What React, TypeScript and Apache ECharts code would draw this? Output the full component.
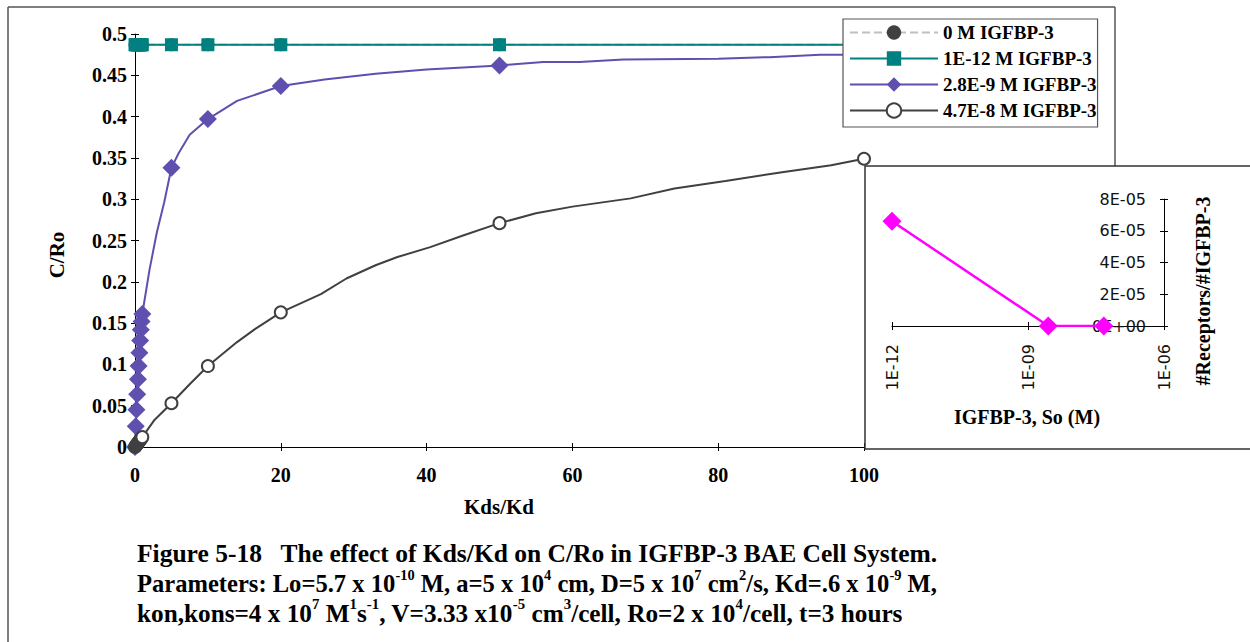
import React, { useEffect, useRef } from "react";
import * as echarts from "echarts";

const SERIF = "'Liberation Serif', 'Times New Roman', serif";
const SANS = "'DejaVu Sans', sans-serif";

// ---- main chart data: C/Ro vs Kds/Kd ----
const seriesNames = ["0 M IGFBP-3", "1E-12 M IGFBP-3", "2.8E-9 M IGFBP-3", "4.7E-8 M IGFBP-3"];

// Kds/Kd values that carry a marker (the rest are curve-only points)
const markedKds = [0, 0.1, 0.2, 0.3, 0.4, 0.5, 0.6, 0.7, 0.8, 0.9, 1, 5, 10, 20, 50, 100];

const kdsZero = [0, 0.1, 0.2, 0.3, 0.4, 0.5, 0.6, 0.7, 0.8, 0.9, 1, 5, 10, 20, 50, 100];
const cRoZero = [0.487, 0.487, 0.487, 0.487, 0.487, 0.487, 0.487, 0.487, 0.487, 0.487, 0.487, 0.487, 0.487, 0.487, 0.487, 0.487];

const kdsPico = [0, 0.1, 0.2, 0.3, 0.4, 0.5, 0.6, 0.7, 0.8, 0.9, 1, 5, 10, 20, 50, 100];
const cRoPico = [0.487, 0.487, 0.487, 0.487, 0.487, 0.487, 0.487, 0.487, 0.487, 0.487, 0.487, 0.487, 0.487, 0.487, 0.487, 0.487];

const kdsNano = [0, 0.1, 0.2, 0.3, 0.4, 0.5, 0.6, 0.7, 0.8, 0.9, 1, 2, 3, 4, 5, 6, 7.5, 10, 14, 20, 26, 33, 40, 50, 56, 61, 67, 80, 87, 94, 100];
const cRoNano = [0, 0.025, 0.045, 0.064, 0.082, 0.098, 0.114, 0.129, 0.142, 0.152, 0.161, 0.215, 0.26, 0.296, 0.338, 0.356, 0.378, 0.397, 0.419, 0.437, 0.445, 0.452, 0.457, 0.462, 0.466, 0.466, 0.469, 0.47, 0.472, 0.475, 0.475];

const kdsHigh = [0, 0.1, 0.2, 0.3, 0.4, 0.5, 0.6, 0.7, 0.8, 0.9, 1, 2.6, 5, 7.5, 10, 14, 16.5, 20, 25.5, 29, 33, 36, 40.5, 45, 50, 55, 60, 68, 74, 81, 89, 95.5, 100];
const cRoHigh = [0, 0.0012, 0.0025, 0.0037, 0.005, 0.0061, 0.0073, 0.0085, 0.0097, 0.0108, 0.012, 0.032, 0.053, 0.076, 0.098, 0.127, 0.143, 0.163, 0.185, 0.204, 0.22, 0.23, 0.242, 0.256, 0.271, 0.283, 0.291, 0.301, 0.313, 0.322, 0.333, 0.341, 0.349];

// ---- inset data: #Receptors/#IGFBP-3 vs So ----
const insetSo = [1e-12, 2.8e-9, 4.7e-8];
const insetRatio = [6.6e-5, 0, 0];

// ---- texts ----
const captionLines: [string, boolean][][] = [
  [["Figure 5-18   The effect of Kds/Kd on C/Ro in IGFBP-3 BAE Cell System.", false]],
  [
    ["Parameters: Lo=5.7 x 10", false], ["-10", true], [" M, a=5 x 10", false], ["4", true],
    [" cm, D=5 x 10", false], ["7", true], [" cm", false], ["2", true], ["/s, Kd=.6 x 10", false], ["-9", true], [" M,", false],
  ],
  [
    ["kon,kons=4 x 10", false], ["7", true], [" M", false], ["1", true], ["s", false], ["-1", true],
    [", V=3.33 x10", false], ["-5", true], [" cm", false], ["3", true], ["/cell, Ro=2 x 10", false], ["4", true], ["/cell, t=3 hours", false],
  ],
];
const captionScale = [1, 0.964, 0.99];

const withMarkers = (xs: number[], ys: number[]) =>
  xs.map((x, i) => (markedKds.includes(x) ? [x, ys[i]] : { value: [x, ys[i]], symbol: "none" }));

const expLabel = (v: number) => {
  const [m, e] = v.toExponential(0).split("e");
  const n = parseInt(e, 10);
  return `${m}E${n < 0 ? "-" : "+"}${String(Math.abs(n)).padStart(2, "0")}`;
};

export default function App() {
  const ref = useRef<HTMLDivElement>(null);
  useEffect(() => {
    if (!ref.current) return;
    const chart = echarts.init(ref.current, undefined, { renderer: "svg" });

    const mainTickLabel = { fontFamily: SERIF, fontWeight: "bold" as const, fontSize: 20, color: "#000" };
    const axLine = { show: true, lineStyle: { color: "#000", width: 1 } };

    const captionGraphics = captionLines.map((line, li) => ({
      type: "text",
      x: 137,
      y: 537.5 + li * 29.5,
      scaleX: captionScale[li],
      z: 20,
      style: {
        text: line.map(([t, sup]) => `{${sup ? "s" : "b"}|${t}}`).join(""),
        rich: {
          b: { fontFamily: SERIF, fontWeight: "bold", fontSize: 25.5, lineHeight: 29, fill: "#000", verticalAlign: "bottom" },
          s: { fontFamily: SERIF, fontWeight: "bold", fontSize: 15, lineHeight: 15, fill: "#000", verticalAlign: "top" },
        },
      },
    }));

    const option: any = {
      animation: false,
      backgroundColor: "#fff",
      grid: [
        { left: 135, right: 386, top: 34, bottom: 195, containLabel: false },
        { left: 892, right: 86, top: 199, bottom: 316, containLabel: false },
      ],
      xAxis: [
        {
          type: "value", gridIndex: 0, min: 0, max: 100, interval: 20, position: "bottom",
          axisLine: { ...axLine, onZero: false },
          axisTick: { show: true, inside: false, length: 4, lineStyle: { color: "#000" } },
          axisLabel: { ...mainTickLabel, margin: 18 },
          splitLine: { show: false },
        },
        {
          type: "value", gridIndex: 0, min: 0, max: 100, interval: 20, position: "bottom",
          axisLine: { show: false, onZero: false },
          axisTick: { show: true, inside: true, length: 4, lineStyle: { color: "#000" } },
          axisLabel: { show: false },
          splitLine: { show: false },
        },
        {
          type: "value", gridIndex: 1, min: -12, max: -6, interval: 3, position: "bottom", z: 10,
          axisLine: { show: true, onZero: false, lineStyle: { color: "#000", width: 1 } },
          axisTick: { show: true, inside: false, length: 4, lineStyle: { color: "#000" } },
          axisLabel: {
            rotate: 90, margin: 18, fontFamily: SANS, fontSize: 16, color: "#111",
            formatter: (v: number) => expLabel(Math.pow(10, v)),
          },
          splitLine: { show: false },
        },
        {
          type: "value", gridIndex: 1, min: -12, max: -6, interval: 3, position: "bottom", z: 10,
          axisLine: { show: false, onZero: false },
          axisTick: { show: true, inside: true, length: 4, lineStyle: { color: "#000" } },
          axisLabel: { show: false },
          splitLine: { show: false },
        },
      ],
      yAxis: [
        {
          type: "value", gridIndex: 0, min: 0, max: 0.5, interval: 0.05, position: "left",
          axisLine: { ...axLine, onZero: false },
          axisTick: { show: true, inside: false, length: 4, lineStyle: { color: "#000" } },
          axisLabel: { ...mainTickLabel, margin: 8, formatter: (v: number) => String(+v.toFixed(2)) },
          splitLine: { show: false },
        },
        {
          type: "value", gridIndex: 0, min: 0, max: 0.5, interval: 0.05, position: "left",
          axisLine: { show: false, onZero: false },
          axisTick: { show: true, inside: true, length: 4, lineStyle: { color: "#000" } },
          axisLabel: { show: false },
          splitLine: { show: false },
        },
        {
          type: "value", gridIndex: 1, min: 0, max: 8e-5, interval: 2e-5, position: "right", z: 10,
          axisLine: { show: true, onZero: false, lineStyle: { color: "#000", width: 1 } },
          axisTick: { show: true, inside: false, length: 4, lineStyle: { color: "#000" } },
          axisLabel: { inside: true, margin: 18, fontFamily: SANS, fontSize: 16, color: "#111", formatter: (v: number) => expLabel(v) },
          splitLine: { show: false },
        },
        {
          type: "value", gridIndex: 1, min: 0, max: 8e-5, interval: 2e-5, position: "right", z: 10,
          axisLine: { show: false, onZero: false },
          axisTick: { show: true, inside: true, length: 4, lineStyle: { color: "#000" } },
          axisLabel: { show: false },
          splitLine: { show: false },
        },
      ],
      legend: {
        data: seriesNames,
        orient: "vertical",
        left: 843,
        top: 19,
        padding: [4, 1, 7, 6],
        itemWidth: 88,
        itemHeight: 18,
        itemGap: 7,
        backgroundColor: "#fff",
        borderColor: "#555",
        borderWidth: 1.2,
        textStyle: { fontFamily: SERIF, fontWeight: "bold", fontSize: 19, lineHeight: 18, color: "#000" },
        z: 12,
      },
      series: [
        {
          name: seriesNames[0], type: "line", xAxisIndex: 0, yAxisIndex: 0,
          data: withMarkers(kdsZero, cRoZero),
          symbol: "circle", symbolSize: 13,
          lineStyle: { color: "#C0C0C0", width: 2, type: "dashed" },
          itemStyle: { color: "#404040" },
        },
        {
          name: seriesNames[1], type: "line", xAxisIndex: 0, yAxisIndex: 0,
          data: withMarkers(kdsPico, cRoPico),
          symbol: "rect", symbolSize: 13,
          lineStyle: { color: "#008080", width: 2 },
          itemStyle: { color: "#008080" },
        },
        {
          name: seriesNames[2], type: "line", xAxisIndex: 0, yAxisIndex: 0,
          data: withMarkers(kdsNano, cRoNano),
          symbol: "diamond", symbolSize: 18,
          lineStyle: { color: "#5F4FAE", width: 2 },
          itemStyle: { color: "#5F4FAE" },
        },
        {
          name: seriesNames[3], type: "line", xAxisIndex: 0, yAxisIndex: 0,
          data: withMarkers(kdsHigh, cRoHigh),
          symbol: "circle", symbolSize: 12,
          lineStyle: { color: "#404040", width: 2 },
          itemStyle: { color: "#fff", borderColor: "#404040", borderWidth: 2 },
        },
        {
          name: "inset", type: "line", xAxisIndex: 2, yAxisIndex: 2, z: 11,
          data: insetSo.map((s, i) => [Math.log10(s), insetRatio[i]]),
          symbol: "diamond", symbolSize: 19,
          lineStyle: { color: "#FF00FF", width: 2.5 },
          itemStyle: { color: "#FF00FF" },
        },
      ],
      graphic: {
        elements: [
          { type: "line", z: 1, shape: { x1: 8, y1: 7, x2: 8, y2: 642 }, style: { stroke: "#555", lineWidth: 1.5 } },
          { type: "line", z: 1, shape: { x1: 8, y1: 7, x2: 1115, y2: 7 }, style: { stroke: "#555", lineWidth: 1.5 } },
          { type: "line", z: 1, shape: { x1: 1115, y1: 7, x2: 1115, y2: 166 }, style: { stroke: "#555", lineWidth: 1.5 } },
          { type: "rect", z: 3, shape: { x: 865, y: 166, width: 400, height: 283 }, style: { fill: "#fff", stroke: "#333", lineWidth: 1.5 } },
          {
            type: "text", x: 57, y: 255, rotation: Math.PI / 2, z: 5,
            style: { text: "C/Ro", font: `bold 21px ${SERIF}`, fill: "#000", align: "center", verticalAlign: "middle" },
          },
          {
            type: "text", x: 499, y: 507, z: 5,
            style: { text: "Kds/Kd", font: `bold 21px ${SERIF}`, fill: "#000", align: "center", verticalAlign: "middle" },
          },
          {
            type: "text", x: 1203, y: 291, rotation: Math.PI / 2, z: 12,
            style: { text: "#Receptors/#IGFBP-3", font: `bold 20px ${SERIF}`, fill: "#000", align: "center", verticalAlign: "middle" },
          },
          {
            type: "text", x: 1027, y: 417, z: 12,
            style: { text: "IGFBP-3, So (M)", font: `bold 20px ${SERIF}`, fill: "#000", align: "center", verticalAlign: "middle" },
          },
          ...captionGraphics,
        ],
      },
    };
    chart.setOption(option);
    return () => chart.dispose();
  }, []);

  return <div ref={ref} style={{ position: "fixed", left: 0, top: 0, width: 1250, height: 642 }} />;
}
